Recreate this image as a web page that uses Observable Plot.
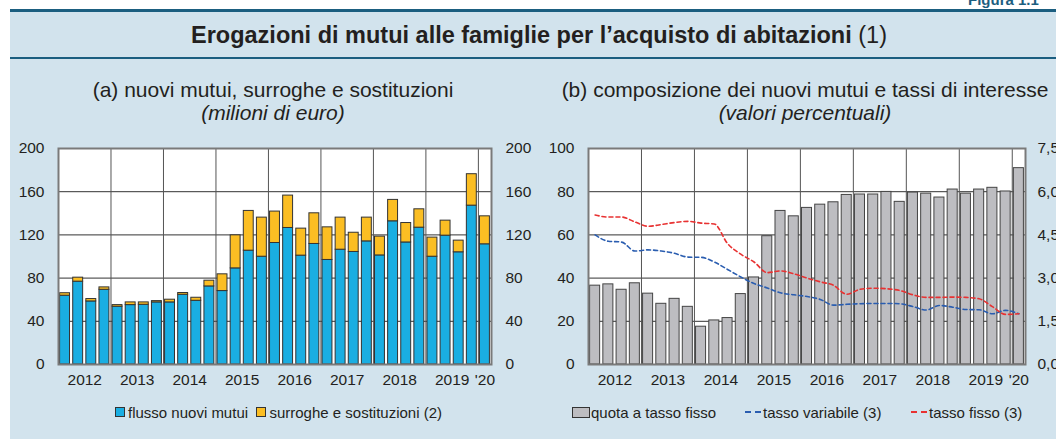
<!DOCTYPE html>
<html><head><meta charset="utf-8">
<script src="https://cdn.jsdelivr.net/npm/d3@7"></script>
<script src="https://cdn.jsdelivr.net/npm/@observablehq/plot@0.6"></script>
<style>
html,body{margin:0;padding:0;background:#fff;}
body{width:1056px;height:439px;position:relative;overflow:hidden;font-family:"Liberation Sans",Arial,Helvetica,sans-serif;color:#231f20;}
#box{position:absolute;left:10px;top:9px;width:1046px;height:430px;background:#d2e3ed;}
#topline{position:absolute;left:10px;top:9px;width:1046px;height:3px;background:#1b5e80;}
#midline{position:absolute;left:10px;top:57px;width:1046px;height:2px;background:#1b5e80;}
#fig{position:absolute;left:968px;top:-9px;font-weight:bold;font-size:15px;color:#1b5e80;}
#title{position:absolute;left:0;width:1078px;top:21px;text-align:center;font-size:23.5px;line-height:28px;font-weight:bold;}
#title span{font-weight:normal;}
.sub{position:absolute;text-align:center;font-size:21px;line-height:23px;}
.panel{position:absolute;top:130px;}
.leg{position:absolute;top:403px;font-size:15px;white-space:nowrap;display:flex;align-items:center;height:18px;}
.sw{display:inline-block;width:8px;height:8px;border:1px solid #333;margin-right:3px;}
.dash{display:inline-block;width:16px;height:0;border-top:2px dashed;margin-right:2px;}
</style></head>
<body>
<div id="box"></div>
<div id="topline"></div>
<div id="midline"></div>
<div id="fig">Figura 1.1</div>
<div id="title">Erogazioni di mutui alle famiglie per l’acquisto di abitazioni <span>(1)</span></div>
<div class="sub" style="left:20px;width:506px;top:78px;">(a) nuovi mutui, surroghe e sostituzioni<br><i>(milioni di euro)</i></div>
<div class="sub" style="left:530px;width:550px;top:78px;">(b) composizione dei nuovi mutui e tassi di interesse<br><i>(valori percentuali)</i></div>
<div id="pa" class="panel" style="left:0px;"></div>
<div id="pb" class="panel" style="left:528px;"></div>
<div class="leg" style="left:115px;"><span class="sw" style="background:#1aaee2"></span>flusso nuovi mutui&nbsp;&nbsp;<span class="sw" style="background:#fbbe23"></span>surroghe e sostituzioni (2)</div>
<div class="leg" style="left:572px;"><span class="sw" style="background:#bdbdc1;width:16px;height:9px;margin-right:1px"></span>quota a tasso fisso</div>
<div class="leg" style="left:745px;"><span class="dash" style="border-color:#2a5db0"></span>tasso variabile (3)</div>
<div class="leg" style="left:911px;"><span class="dash" style="border-color:#e83232"></span>tasso fisso (3)</div>
<script>
const quarters = ["2012T1","2012T2","2012T3","2012T4","2013T1","2013T2","2013T3","2013T4","2014T1","2014T2","2014T3","2014T4","2015T1","2015T2","2015T3","2015T4","2016T1","2016T2","2016T3","2016T4","2017T1","2017T2","2017T3","2017T4","2018T1","2018T2","2018T3","2018T4","2019T1","2019T2","2019T3","2019T4","2020T1"];
const yearLabels = ["2012","2013","2014","2015","2016","2017","2018","2019","'20"];
const flussoNuovi = [63.7,76.7,58.4,69.2,53.5,55,55.3,57.5,57.5,64.6,59,72.3,68,89,105.4,99.8,112.5,126.4,100.8,111.6,96.8,106.3,104.2,114,101,132.6,113,126.7,99.8,119.3,103.9,147.1,111.3];
const surroghe = [2.3,3.7,2.2,2.2,1.5,2.5,2.2,1.2,2.5,1.6,2.8,5.3,15.5,30.6,36.8,36.2,29.1,30,25,28.4,30.2,29.7,17.8,22,17.4,19.8,18,17,17.7,13.9,10.8,29.1,25.9];
const quotaFisso = [36.5,37.1,34.6,37.6,32.8,28.1,30.4,26.7,17.5,20.4,21.5,32.6,40.3,59.4,71.1,68.6,72.5,74,75.1,78.5,78.7,78.7,79.9,75.3,79.6,79.1,77.3,81,79.1,81,81.8,80.1,90.9];
const tassoVariabile = [4.50,4.28,4.25,3.94,3.98,3.94,3.86,3.73,3.72,3.56,3.30,3.04,2.81,2.66,2.49,2.42,2.36,2.26,2.06,2.09,2.11,2.12,2.12,2.11,2.01,1.89,2.05,1.99,1.91,1.90,1.76,1.88,1.76];
const tassoFisso = [5.19,5.12,5.12,4.95,4.80,4.86,4.93,4.97,4.91,4.88,4.20,3.83,3.56,3.19,3.25,3.15,3.00,2.87,2.75,2.44,2.61,2.65,2.63,2.57,2.42,2.33,2.33,2.34,2.33,2.28,2.01,1.74,1.76];
const leftTicksA = [0,40,80,120,160,200];
const leftTicksB = [0,20,40,60,80,100];
const rightTicksB = ["0,0","1,5","3,0","4,5","6,0","7,5"];

const n = quarters.length;
const yearPos = yearLabels.map((y,k)=> k<8 ? k*4+2 : n-0.5);
const yearBounds = yearLabels.slice(1).map((y,k)=>(k+1)*4);
const stackA = quarters.flatMap((q,i)=>[
  {i, serie:"flusso", y1:0, y2:flussoNuovi[i]},
  {i, serie:"surroghe", y1:flussoNuovi[i], y2:flussoNuovi[i]+surroghe[i]}
]);
const RATE_MAX = 7.5;
const lines = [
  ...tassoVariabile.map((v,i)=>({i, v, s:"var"})),
  ...tassoFisso.map((v,i)=>({i, v, s:"fix"}))
];
const font = "15px 'Liberation Sans', Arial, sans-serif";
const common = {
  width:528, height:260, marginTop:18, marginBottom:26,
  style:{background:"transparent", font, color:"#231f20", overflow:"visible"},
  x:{domain:[0,n], axis:null},
};
const xAxis = Plot.axisX({ticks: yearPos, tickFormat:(d)=>yearLabels[yearPos.indexOf(d)], tickSize:0, tickPadding:9, fontSize:15.5});

const pa = Plot.plot({
  ...common, marginLeft:58, marginRight:37,
  y:{domain:[0,200], axis:null},
  marks:[
    Plot.frame({fill:"#fff"}),
    Plot.ruleY(leftTicksA.slice(1,-1), {stroke:"#333", strokeWidth:1}),
    Plot.ruleX(yearBounds, {stroke:"#555", strokeWidth:1}),
    Plot.rectY(stackA, {x1:d=>d.i, x2:d=>d.i+1, y1:"y1", y2:"y2", insetLeft:1.6, insetRight:1.6,
      fill:d=>d.serie==="flusso"?"#1aaee2":"#fbbe23", stroke:"#333", strokeWidth:1}),
    Plot.frame({stroke:"#7a7a7a", strokeWidth:2}),
    Plot.axisY({ticks:leftTicksA, anchor:"left", tickSize:0, tickPadding:14, fontSize:15.5}),
    Plot.axisY({ticks:leftTicksA, anchor:"right", tickSize:0, tickPadding:14, fontSize:15.5}),
    xAxis
  ]
});
document.getElementById("pa").appendChild(pa);

const pb = Plot.plot({
  ...common, marginLeft:60, marginRight:31,
  y:{domain:[0,100], axis:null},
  marks:[
    Plot.frame({fill:"#fff"}),
    Plot.ruleY(leftTicksB.slice(1,-1), {stroke:"#333", strokeWidth:1}),
    Plot.ruleX(yearBounds, {stroke:"#555", strokeWidth:1}),
    Plot.rectY(quotaFisso, {x1:(d,i)=>i, x2:(d,i)=>i+1, y:d=>d, insetLeft:1.6, insetRight:1.6,
      fill:"#bdbdc1", stroke:"#444", strokeWidth:1}),
    Plot.line(lines, {x:d=>d.i+0.5, y:d=>d.v/RATE_MAX*100, z:"s", stroke:d=>d.s==="var"?"#2a5db0":"#e83232",
      strokeWidth:1.6, strokeDasharray:"4,3", curve:"monotone-x"}),
    Plot.frame({stroke:"#7a7a7a", strokeWidth:2}),
    Plot.axisY({ticks:leftTicksB, anchor:"left", tickSize:0, tickPadding:14, fontSize:15.5}),
    Plot.axisY({ticks:leftTicksB, anchor:"right", tickSize:0, tickPadding:12, fontSize:15.5,
      tickFormat:(d)=>rightTicksB[leftTicksB.indexOf(d)]}),
    xAxis
  ]
});
document.getElementById("pb").appendChild(pb);
</script>
</body></html>
